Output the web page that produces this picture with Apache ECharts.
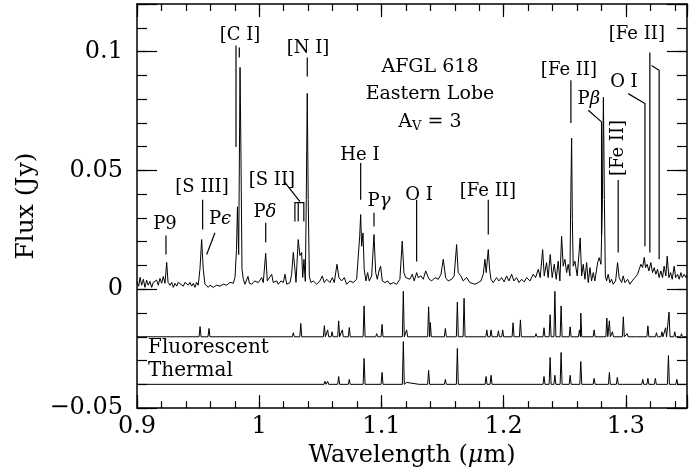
<!DOCTYPE html>
<html>
<head>
<meta charset="utf-8">
<script src="https://cdn.jsdelivr.net/npm/echarts/dist/echarts.min.js"></script>
<style>
  html, body { margin: 0; padding: 0; background: #fff; }
  #chart { width: 690px; height: 473px; }
</style>
</head>
<body>
<div id="chart"></div>
<script>
// observed spectrum, [wavelength (um), flux (Jy)]
const observed = [
  [0.9000, 0.0033], [0.9014, 0.0013], [0.9025, 0.0050], [0.9038, 0.0017], [0.9052, 0.0042],
  [0.9065, 0.0008], [0.9079, 0.0038], [0.9092, 0.0017], [0.9106, 0.0033], [0.9120, 0.0008],
  [0.9133, 0.0029], [0.9147, 0.0021], [0.9161, 0.0038], [0.9174, 0.0017], [0.9188, 0.0046],
  [0.9202, 0.0025], [0.9215, 0.0054], [0.9229, 0.0025], [0.9243, 0.0113], [0.9254, 0.0029],
  [0.9270, 0.0017], [0.9284, 0.0029], [0.9297, 0.0008], [0.9311, 0.0025], [0.9325, 0.0013],
  [0.9338, 0.0029], [0.9352, 0.0021], [0.9379, 0.0013], [0.9393, 0.0029], [0.9420, 0.0017],
  [0.9434, 0.0029], [0.9447, 0.0013], [0.9461, 0.0025], [0.9474, 0.0008], [0.9488, 0.0029],
  [0.9501, 0.0017], [0.9515, 0.0084], [0.9529, 0.0209], [0.9542, 0.0084], [0.9556, 0.0021],
  [0.9570, 0.0013], [0.9583, 0.0008], [0.9597, 0.0017], [0.9624, 0.0008], [0.9652, 0.0017],
  [0.9679, 0.0013], [0.9706, 0.0021], [0.9734, 0.0017], [0.9761, 0.0029], [0.9788, 0.0025],
  [0.9802, 0.0050], [0.9814, 0.0167], [0.9822, 0.0347], [0.9832, 0.0146], [0.9843, 0.0933],
  [0.9851, 0.0544], [0.9859, 0.0084], [0.9870, 0.0042], [0.9883, 0.0021], [0.9908, 0.0054],
  [0.9920, 0.0025], [0.9938, 0.0021], [0.9963, 0.0035], [0.9992, 0.0028], [1.0020, 0.0049],
  [1.0033, 0.0028], [1.0053, 0.0151], [1.0066, 0.0035], [1.0080, 0.0028], [1.0102, 0.0063],
  [1.0115, 0.0028], [1.0143, 0.0035], [1.0156, 0.0021], [1.0178, 0.0035], [1.0197, 0.0028],
  [1.0211, 0.0063], [1.0225, 0.0021], [1.0252, 0.0028], [1.0265, 0.0063], [1.0279, 0.0155],
  [1.0292, 0.0084], [1.0301, 0.0029], [1.0319, 0.0209], [1.0333, 0.0142], [1.0347, 0.0155],
  [1.0356, 0.0050], [1.0366, 0.0126], [1.0377, 0.0033], [1.0385, 0.0377], [1.0393, 0.0824],
  [1.0401, 0.0377], [1.0410, 0.0054], [1.0423, 0.0028], [1.0442, 0.0035], [1.0470, 0.0021],
  [1.0497, 0.0035], [1.0516, 0.0056], [1.0532, 0.0028], [1.0552, 0.0042], [1.0579, 0.0028],
  [1.0598, 0.0049], [1.0614, 0.0028], [1.0636, 0.0105], [1.0652, 0.0049], [1.0674, 0.0035],
  [1.0696, 0.0049], [1.0715, 0.0021], [1.0742, 0.0035], [1.0769, 0.0028], [1.0797, 0.0042],
  [1.0805, 0.0035], [1.0822, 0.0223], [1.0830, 0.0314], [1.0838, 0.0181], [1.0849, 0.0237],
  [1.0859, 0.0084], [1.0873, 0.0035], [1.0887, 0.0070], [1.0900, 0.0035], [1.0920, 0.0056],
  [1.0939, 0.0230], [1.0953, 0.0070], [1.0966, 0.0042], [1.0980, 0.0077], [1.0993, 0.0097],
  [1.1007, 0.0035], [1.1029, 0.0028], [1.1051, 0.0035], [1.1070, 0.0021], [1.1097, 0.0028],
  [1.1124, 0.0021], [1.1151, 0.0042], [1.1170, 0.0202], [1.1184, 0.0070], [1.1198, 0.0049],
  [1.1214, 0.0056], [1.1233, 0.0042], [1.1252, 0.0063], [1.1268, 0.0035], [1.1288, 0.0070],
  [1.1301, 0.0049], [1.1323, 0.0056], [1.1342, 0.0042], [1.1362, 0.0077], [1.1378, 0.0056],
  [1.1391, 0.0042], [1.1411, 0.0035], [1.1438, 0.0049], [1.1465, 0.0042], [1.1487, 0.0063],
  [1.1506, 0.0126], [1.1525, 0.0049], [1.1546, 0.0035], [1.1574, 0.0042], [1.1595, 0.0056],
  [1.1615, 0.0188], [1.1628, 0.0070], [1.1650, 0.0056], [1.1669, 0.0035], [1.1697, 0.0049],
  [1.1724, 0.0028], [1.1738, 0.0035], [1.1765, 0.0021], [1.1792, 0.0028], [1.1814, 0.0035],
  [1.1833, 0.0063], [1.1847, 0.0126], [1.1857, 0.0070], [1.1874, 0.0167], [1.1885, 0.0084],
  [1.1896, 0.0042], [1.1915, 0.0028], [1.1942, 0.0049], [1.1961, 0.0035], [1.1983, 0.0049],
  [1.2004, 0.0031], [1.2024, 0.0056], [1.2043, 0.0035], [1.2065, 0.0063], [1.2084, 0.0035],
  [1.2106, 0.0049], [1.2125, 0.0028], [1.2147, 0.0042], [1.2168, 0.0031], [1.2188, 0.0049],
  [1.2215, 0.0035], [1.2242, 0.0063], [1.2261, 0.0049], [1.2283, 0.0084], [1.2299, 0.0049],
  [1.2319, 0.0167], [1.2332, 0.0056], [1.2351, 0.0112], [1.2364, 0.0049], [1.2381, 0.0146],
  [1.2397, 0.0049], [1.2414, 0.0105], [1.2430, 0.0042], [1.2446, 0.0118], [1.2460, 0.0035],
  [1.2474, 0.0223], [1.2487, 0.0097], [1.2501, 0.0126], [1.2515, 0.0070], [1.2528, 0.0105],
  [1.2542, 0.0056], [1.2549, 0.0377], [1.2556, 0.0636], [1.2562, 0.0293], [1.2569, 0.0097],
  [1.2583, 0.0118], [1.2602, 0.0056], [1.2610, 0.0049], [1.2626, 0.0216], [1.2638, 0.0056],
  [1.2651, 0.0105], [1.2665, 0.0042], [1.2679, 0.0112], [1.2692, 0.0028], [1.2706, 0.0091],
  [1.2719, 0.0035], [1.2733, 0.0070], [1.2746, 0.0035], [1.2769, 0.0112], [1.2782, 0.0133],
  [1.2796, 0.0105], [1.2808, 0.0377], [1.2816, 0.0808], [1.2824, 0.0377], [1.2832, 0.0056],
  [1.2842, 0.0035], [1.2855, 0.0063], [1.2869, 0.0028], [1.2883, 0.0042], [1.2896, 0.0021],
  [1.2916, 0.0035], [1.2932, 0.0112], [1.2945, 0.0049], [1.2965, 0.0028], [1.2978, 0.0056],
  [1.2992, 0.0028], [1.3014, 0.0042], [1.3033, 0.0021], [1.3051, 0.0035], [1.3074, 0.0049],
  [1.3096, 0.0063], [1.3109, 0.0084], [1.3123, 0.0105], [1.3137, 0.0091], [1.3150, 0.0134],
  [1.3161, 0.0091], [1.3174, 0.0105], [1.3188, 0.0077], [1.3204, 0.0112], [1.3218, 0.0070],
  [1.3232, 0.0091], [1.3245, 0.0063], [1.3259, 0.0084], [1.3272, 0.0049], [1.3286, 0.0077],
  [1.3300, 0.0049], [1.3313, 0.0097], [1.3327, 0.0056], [1.3338, 0.0139], [1.3352, 0.0049],
  [1.3366, 0.0070], [1.3379, 0.0042], [1.3395, 0.0097], [1.3407, 0.0049], [1.3423, 0.0063],
  [1.3436, 0.0042], [1.3450, 0.0070], [1.3461, 0.0049], [1.3477, 0.0063], [1.3491, 0.0049],
  [1.3500, 0.0059]
];

// model line lists: [wavelength, peak height above the offset baseline]
const fluorescentBase = -0.02;
const fluorescentPeaks = [
  [0.9516, 0.0043], [0.9589, 0.0035], [0.9770, 0.0006], [1.0279, 0.0017], [1.0340, 0.0056],
  [1.0533, 0.0047], [1.0560, 0.0029], [1.0596, 0.0021], [1.0650, 0.0067], [1.0680, 0.0029],
  [1.0737, 0.0039], [1.0858, 0.0130], [1.0961, 0.0013], [1.1005, 0.0052], [1.1179, 0.0191],
  [1.1206, 0.0029], [1.1316, 0.0008], [1.1386, 0.0126], [1.1400, 0.0060], [1.1523, 0.0035],
  [1.1621, 0.0146], [1.1676, 0.0162], [1.1862, 0.0029], [1.1897, 0.0029], [1.1957, 0.0025],
  [1.1992, 0.0029], [1.2077, 0.0059], [1.2137, 0.0071], [1.2265, 0.0013], [1.2330, 0.0038],
  [1.2380, 0.0093], [1.2419, 0.0191], [1.2470, 0.0130], [1.2544, 0.0042], [1.2620, 0.0029],
  [1.2631, 0.0100], [1.2740, 0.0029], [1.2844, 0.0079], [1.2865, 0.0067], [1.2890, 0.0021],
  [1.2979, 0.0084], [1.3010, 0.0013], [1.3085, 0.0006], [1.3180, 0.0046], [1.3250, 0.0017],
  [1.3295, 0.0021], [1.3325, 0.0038], [1.3353, 0.0104], [1.3400, 0.0021], [1.3455, 0.0013]
];
const thermalBase = -0.04;
const thermalPeaks = [
  [1.0538, 0.0013], [1.0560, 0.0013], [1.0650, 0.0033], [1.0737, 0.0021], [1.0858, 0.0109],
  [1.1005, 0.0050], [1.1179, 0.0180], [1.1206, 0.0008], [1.1316, 0.0008], [1.1386, 0.0059],
  [1.1523, 0.0021], [1.1621, 0.0151], [1.1676, 0.0008], [1.1856, 0.0033], [1.1897, 0.0038],
  [1.2077, 0.0008], [1.2330, 0.0033], [1.2380, 0.0113], [1.2419, 0.0038], [1.2470, 0.0134],
  [1.2544, 0.0038], [1.2631, 0.0096], [1.2740, 0.0025], [1.2865, 0.0050], [1.2930, 0.0029],
  [1.2979, 0.0008], [1.3138, 0.0021], [1.3180, 0.0025], [1.3241, 0.0025], [1.3348, 0.0121],
  [1.3417, 0.0021]
];

// line identifications: text, wavelength, flux
const lineLabels = [
  ['P9', 0.9229, 0.0272],
  ['[S III]', 0.9532, 0.0427],
  ['P{i|ϵ}', 0.9679, 0.0293],
  ['[C I]', 0.9843, 0.1067],
  ['[N I]', 1.0399, 0.1013],
  ['[S II]', 1.0104, 0.0460],
  ['P{i|δ}', 1.0047, 0.0322],
  ['He I', 1.0824, 0.0565],
  ['P{i|γ}', 1.0980, 0.0368],
  ['O I', 1.1307, 0.0397],
  ['[Fe II]', 1.1871, 0.0410],
  ['[Fe II]', 1.2534, 0.0921],
  ['P{i|β}', 1.2697, 0.0799],
  ['O I', 1.2984, 0.0870],
  ['[Fe II]', 1.3090, 0.1071]
];
const rotatedLabels = [['[Fe II]', 1.2935, 0.0594]];
const labelTicks = [
  [[0.9237, 0.0226], [0.9237, 0.0146]],
  [[0.9537, 0.0377], [0.9537, 0.0251]],
  [[0.9638, 0.0238], [0.9570, 0.0146]],
  [[0.9810, 0.1025], [0.9810, 0.0598]],
  [[0.9837, 0.1017], [0.9837, 0.0975]],
  [[1.0393, 0.0975], [1.0393, 0.0895]],
  [[1.0205, 0.0453], [1.0333, 0.0369]],
  [[1.0292, 0.0285], [1.0292, 0.0364], [1.0365, 0.0364], [1.0365, 0.0285]],
  [[1.0319, 0.0364], [1.0319, 0.0285]],
  [[1.0053, 0.0280], [1.0053, 0.0197]],
  [[1.0830, 0.0531], [1.0830, 0.0377]],
  [[1.0939, 0.0322], [1.0939, 0.0264]],
  [[1.1288, 0.0377], [1.1288, 0.0117]],
  [[1.1874, 0.0377], [1.1874, 0.0230]],
  [[1.2550, 0.0879], [1.2550, 0.0699]],
  [[1.2692, 0.0753], [1.2801, 0.0704], [1.2801, 0.0230]],
  [[1.3019, 0.0823], [1.3156, 0.0781], [1.3156, 0.0181]],
  [[1.3196, 0.0996], [1.3196, 0.0155]],
  [[1.3210, 0.0941], [1.3272, 0.0921], [1.3272, 0.0126]],
  [[1.2937, 0.0460], [1.2937, 0.0155]]
];

const titleLines = ['AFGL 618', 'Eastern Lobe', 'A{s|V} = 3'];
const titleX = 1.1397;
const titleY = [0.0933, 0.0820, 0.0703];
const modelNames = [['Fluorescent', 0.9090, -0.0247], ['Thermal', 0.9090, -0.0345]];

const xMin = 0.9, xMax = 1.35, xStep = 0.1, xMinorStep = 0.02;
const yMin = -0.05, yMax = 0.12, yStep = 0.05, yMinorStep = 0.01;

const FONT = 'DejaVu Serif';

// each model line drawn as a narrow spike on its offset baseline
const spikes = (peaks, base) => {
  const pts = [[xMin, base]];
  peaks.forEach(([w, h]) => {
    pts.push([w - 0.0008, base], [w, base + h], [w + 0.0008, base]);
  });
  pts.push([xMax, base]);
  return pts;
};

const num = v => {
  const r = parseFloat(v.toFixed(3));
  return String(r).replace('-', '\u2212');
};

const mkX = (pos, step, len, labels) => ({
  type: 'value', position: pos, min: xMin, max: xMax, interval: step,
  axisLine: { show: labels !== null, onZero: false, lineStyle: { color: '#000', width: 1.5 } },
  axisTick: { show: true, inside: true, length: len, lineStyle: { color: '#000', width: 1.2 } },
  axisLabel: labels ? {
    show: true, margin: 7, color: '#000', fontFamily: FONT, fontSize: 24,
    formatter: v => (Math.abs(v - xMax) < 1e-6 ? '' : num(v))
  } : { show: false },
  splitLine: { show: false },
  name: labels ? 'Wavelength ({i|μ}m)' : '',
  nameLocation: 'middle', nameGap: 31,
  nameTextStyle: {
    color: '#000', fontFamily: FONT, fontSize: 24,
    rich: { i: { fontFamily: FONT, fontSize: 24, fontStyle: 'italic', color: '#000' } }
  }
});

const mkY = (pos, step, len, labels) => ({
  type: 'value', position: pos, min: yMin, max: yMax, interval: step,
  axisLine: { show: labels !== null, onZero: false, lineStyle: { color: '#000', width: 1.5 } },
  axisTick: { show: true, inside: true, length: len, lineStyle: { color: '#000', width: 1.2 } },
  axisLabel: labels ? {
    show: true, margin: 14, color: '#000', fontFamily: FONT, fontSize: 24,
    formatter: v => (Math.abs(v - yMax) < 1e-6 ? '' : num(v))
  } : { show: false },
  splitLine: { show: false },
  name: labels ? 'Flux (Jy)' : '',
  nameLocation: 'middle', nameGap: 93, nameRotate: 90,
  nameTextStyle: { color: '#000', fontFamily: FONT, fontSize: 25 }
});

const chart = echarts.init(document.getElementById('chart'), null, { renderer: 'canvas' });

const labelStyle = {
  show: true, position: 'inside', color: '#000', opacity: 1, fontFamily: FONT, fontSize: 18,
  rich: {
    i: { fontFamily: FONT, fontSize: 18, fontStyle: 'italic', color: '#000' },
    s: { fontFamily: FONT, fontSize: 13, color: '#000', verticalAlign: 'bottom', padding: [8, 0, 0, 0] }
  }
};

const textSeries = (data, label) => ({
  type: 'scatter', symbolSize: 0, silent: true,
  itemStyle: { opacity: 1 },
  data: data,
  label: label
});

const option = {
  animation: false,
  backgroundColor: '#fff',
  grid: { left: 137, right: 3, top: 4, bottom: 64, containLabel: false },
  xAxis: [
    mkX('bottom', xStep, 13, true),
    mkX('bottom', xMinorStep, 7, null),
    mkX('top', xStep, 13, false),
    mkX('top', xMinorStep, 7, null)
  ],
  yAxis: [
    mkY('left', yStep, 20, true),
    mkY('left', yMinorStep, 10, null),
    mkY('right', yStep, 20, false),
    mkY('right', yMinorStep, 10, null)
  ],
  series: [
    {
      name: 'Observed', type: 'line', data: observed, showSymbol: false, symbol: 'none',
      lineStyle: { color: '#000', width: 1 }, z: 3
    },
    {
      name: 'Fluorescent', type: 'line', data: spikes(fluorescentPeaks, fluorescentBase),
      symbol: 'none', lineStyle: { color: '#000', width: 1 }
    },
    {
      name: 'Thermal', type: 'line', data: spikes(thermalPeaks, thermalBase),
      symbol: 'none', lineStyle: { color: '#000', width: 1 }
    },
    {
      type: 'lines', coordinateSystem: 'cartesian2d', polyline: true,
      data: labelTicks.map(c => ({ coords: c })),
      lineStyle: { color: '#000', width: 1.2, opacity: 1 }
    },
    textSeries(lineLabels.map(l => ({ value: [l[1], l[2]], label: { formatter: l[0] } })), labelStyle),
    textSeries(rotatedLabels.map(l => ({ value: [l[1], l[2]], label: { formatter: l[0] } })),
      Object.assign({}, labelStyle, { rotate: 90 })),
    textSeries(titleLines.map((t, i) => ({ value: [titleX, titleY[i]], label: { formatter: t } })),
      Object.assign({}, labelStyle, { fontSize: 19 })),
    textSeries(modelNames.map(l => ({ value: [l[1], l[2]], label: { formatter: l[0] } })),
      Object.assign({}, labelStyle, { position: 'right', distance: 0, fontSize: 20 }))
  ]
};

chart.setOption(option);
</script>
</body>
</html>
